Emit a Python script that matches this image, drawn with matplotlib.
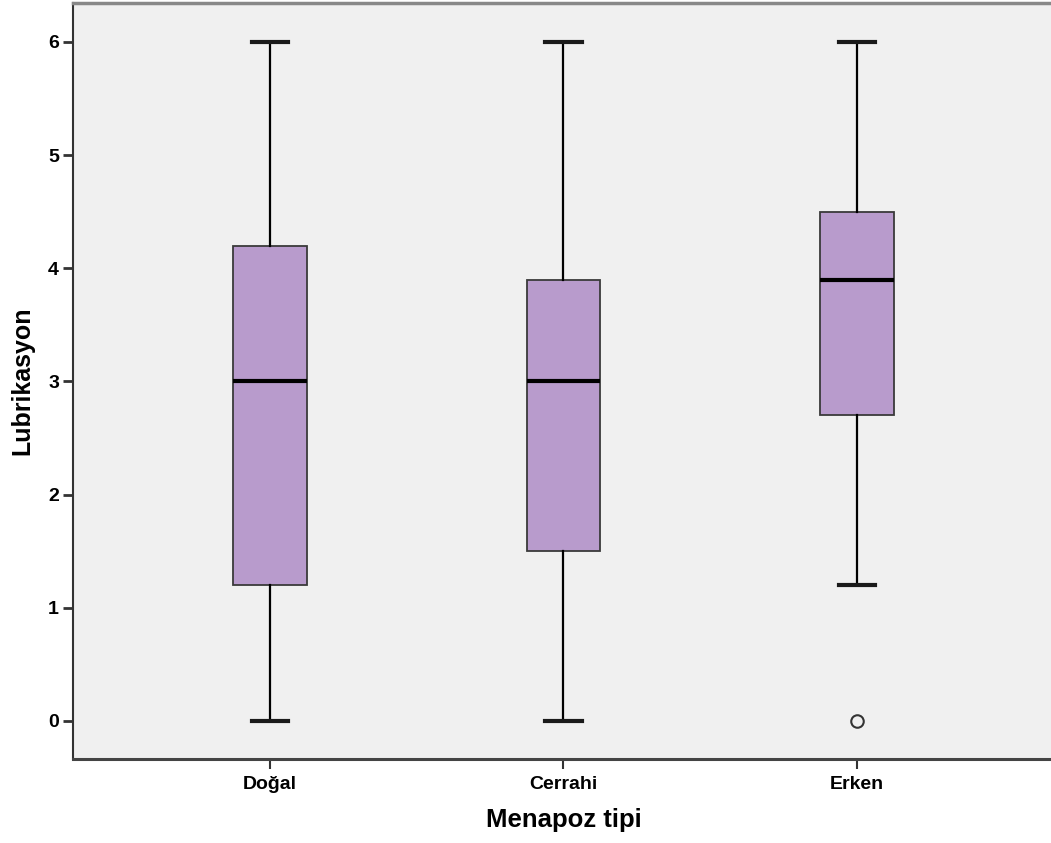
import matplotlib
matplotlib.use("Agg")
import matplotlib.pyplot as plt

categories = ["Doğal", "Cerrahi", "Erken"]
whisker_low = [0.0, 0.0, 1.2]
q1 = [1.2, 1.5, 2.7]
medians = [3.0, 3.0, 3.9]
q3 = [4.2, 3.9, 4.5]
whisker_high = [6.0, 6.0, 6.0]
outliers = [[], [], [0.0]]
y_ticks = [0, 1, 2, 3, 4, 5, 6]

plt.rcParams['font.family'] = ['Liberation Sans', 'DejaVu Sans']

fig = plt.figure(figsize=(10.51, 8.43), dpi=100)
ax = fig.add_axes([73 / 1051, 84 / 843, 0.935, 756 / 843])
ax.set_facecolor('#f0f0f0')

stats = []
for i, name in enumerate(categories):
    stats.append(dict(label=name, whislo=whisker_low[i], q1=q1[i], med=medians[i],
                      q3=q3[i], whishi=whisker_high[i], fliers=outliers[i]))

positions = list(range(1, len(categories) + 1))
ax.bxp(stats, positions=positions, widths=0.25, capwidths=0.125,
       patch_artist=True, showfliers=True,
       boxprops=dict(facecolor='#b89bcc', edgecolor='#3a3a3a', linewidth=1.3),
       medianprops=dict(color='black', linewidth=3),
       whiskerprops=dict(color='black', linewidth=1.6),
       capprops=dict(color='#1a1a1a', linewidth=3),
       flierprops=dict(marker='o', markerfacecolor='none', markeredgecolor='#333333',
                       markersize=9, markeredgewidth=1.5))

ax.set_xlim(0.329, 3.677)
ax.set_ylim(-0.336, 6.343)
ax.set_yticks(y_ticks)
ax.set_xticks(positions)
ax.set_xticklabels(categories)

for lab in ax.get_xticklabels() + ax.get_yticklabels():
    lab.set_fontweight('bold')
ax.tick_params(axis='x', length=7, width=1.5, color='#333333', pad=5, labelsize=14)
ax.tick_params(axis='y', length=7, width=2, color='#333333', pad=3, labelsize=14)

ax.spines['left'].set_color('#333333')
ax.spines['left'].set_linewidth(1.5)
ax.spines['bottom'].set_color('#444444')
ax.spines['bottom'].set_linewidth(2.2)
ax.spines['top'].set_color('#888888')
ax.spines['top'].set_linewidth(2.5)
ax.spines['right'].set_visible(False)

ax.set_xlabel('Menapoz tipi', fontsize=18.5, fontweight='bold', labelpad=11)
ax.set_ylabel('Lubrikasyon', fontsize=18, fontweight='bold', labelpad=10)

fig.savefig('out.png', dpi=100, facecolor='white')
